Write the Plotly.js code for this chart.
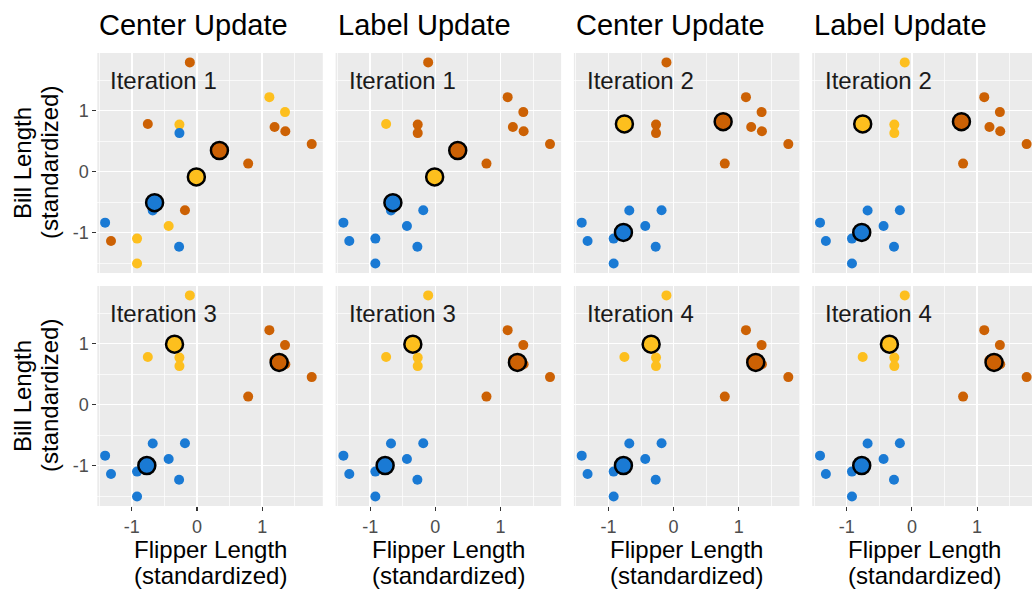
<!DOCTYPE html>
<html>
<head>
<meta charset="utf-8">
<script src="https://cdn.plot.ly/plotly-3.0.1.min.js"></script>
<style>
  html, body { margin: 0; padding: 0; overflow: hidden; background: #ffffff; }
  #chart { width: 1045px; height: 589px; }
</style>
</head>
<body>
<div id="chart"></div>
<script>
// Standardized penguin measurements (18 birds)
const flipper = [-0.11, 1.11, 1.35, 1.19, 1.355, 1.76, -0.755, -0.27, -0.27, 0.785,
                 -0.185, -0.68, -1.41, -0.435, -1.32, -0.92, -0.275, -0.92];
const bill    = [1.79, 1.22, 0.975, 0.73, 0.66, 0.45, 0.78, 0.77, 0.63, 0.13,
                 -0.636, -0.64, -0.838, -0.893, -1.14, -1.10, -1.233, -1.507];

// Cluster assignment of each bird (o = orange, y = yellow, b = blue)
const labelsStart = ["o","y","y","o","o","o","o","y","b","o","o","b","b","y","o","y","b","y"];
const labelsIter1 = ["o","o","o","o","o","o","y","o","o","o","b","b","b","b","b","b","b","b"];
const labelsIter2 = ["y","o","o","o","o","o","y","y","y","o","b","b","b","b","b","b","b","b"];

// Cluster centers, ordered orange, yellow, blue
const centerClusters = ["o", "y", "b"];
const centersIter1X = [0.344, -0.01, -0.651];
const centersIter1Y = [0.345, -0.088, -0.51];
const centersIter2X = [0.76, -0.755, -0.77];
const centersIter2Y = [0.817, 0.78, -0.998];
const centersIter3X = [1.26, -0.345, -0.77];
const centersIter3Y = [0.69, 0.99, -1.0];

// Axis ticks
const tickValues = [-1, 0, 1];
const tickLabels = ["-1", "0", "1"];

// Facets
const panelTitles = ["Center Update", "Label Update", "Center Update", "Label Update",
                     "Center Update", "Label Update", "Center Update", "Label Update"];
const panelIterations = [1, 1, 2, 2, 3, 3, 4, 4];
const panelLabels = [labelsStart, labelsIter1, labelsIter1, labelsIter2,
                     labelsIter2, labelsIter2, labelsIter2, labelsIter2];
const panelCentersX = [centersIter1X, centersIter1X, centersIter2X, centersIter2X,
                       centersIter3X, centersIter3X, centersIter3X, centersIter3X];
const panelCentersY = [centersIter1Y, centersIter1Y, centersIter2Y, centersIter2Y,
                       centersIter3Y, centersIter3Y, centersIter3Y, centersIter3Y];

const clusterColors = { o: "#CC6104", y: "#FDBF1E", b: "#1A7AD4" };

// Page geometry (pixels)
const W = 1045, H = 589;
const colLeft = [97.3, 335.6, 573.9, 812.2];
const panelW = 225.5;
const rowTop = [53, 286];
const panelH = 220;
const FONT = "Liberation Sans, Arial, Helvetica, sans-serif";

const traces = [];
const layout = {
  width: W, height: H,
  margin: { l: 0, r: 0, t: 0, b: 0 },
  paper_bgcolor: "#ffffff",
  plot_bgcolor: "#EBEBEB",
  showlegend: false,
  font: { family: FONT, color: "#000000" },
  annotations: []
};

for (let k = 0; k < 8; k++) {
  const r = Math.floor(k / 4), c = k % 4;
  const id = k === 0 ? "" : String(k + 1);
  const xa = "x" + id, ya = "y" + id;
  const labels = panelLabels[k];

  // data points, one trace per cluster
  ["o", "y", "b"].forEach(cl => {
    const xs = [], ys = [];
    labels.forEach((l, i) => { if (l === cl) { xs.push(flipper[i]); ys.push(bill[i]); } });
    traces.push({
      type: "scatter", mode: "markers", x: xs, y: ys, xaxis: xa, yaxis: ya,
      marker: { size: 10, color: clusterColors[cl], line: { width: 0 } },
      hoverinfo: "skip"
    });
  });

  // cluster centers
  traces.push({
    type: "scatter", mode: "markers",
    x: panelCentersX[k], y: panelCentersY[k], xaxis: xa, yaxis: ya,
    marker: { size: 17, color: centerClusters.map(cl => clusterColors[cl]),
              line: { width: 2.5, color: "#000000" } },
    hoverinfo: "skip"
  });

  const left = colLeft[c], top = rowTop[r];
  const isBottom = r === 1, isLeft = c === 0;

  layout["xaxis" + id] = {
    domain: [left / W, (left + panelW) / W],
    anchor: ya,
    range: [-1.53, 1.93],
    tickmode: "array", tickvals: tickValues, ticktext: tickLabels,
    showgrid: true, gridcolor: "#FFFFFF", gridwidth: 1.4,
    minor: { dtick: 0.5, tick0: 0, showgrid: true, gridcolor: "#FFFFFF", gridwidth: 0.7 },
    zeroline: false, showline: false,
    ticks: isBottom ? "outside" : "", ticklen: 4, tickwidth: 1.1, tickcolor: "#333333",
    showticklabels: isBottom,
    tickfont: { size: 18, color: "#4D4D4D", family: FONT },
    fixedrange: true
  };
  layout["yaxis" + id] = {
    domain: [1 - (top + panelH) / H, 1 - top / H],
    anchor: xa,
    range: [-1.664, 1.944],
    tickmode: "array", tickvals: tickValues, ticktext: tickLabels,
    showgrid: true, gridcolor: "#FFFFFF", gridwidth: 1.4,
    minor: { dtick: 0.5, tick0: 0, showgrid: true, gridcolor: "#FFFFFF", gridwidth: 0.7 },
    zeroline: false, showline: false,
    ticks: isLeft ? "outside" : "", ticklen: 4, tickwidth: 1.1, tickcolor: "#333333",
    showticklabels: isLeft,
    tickfont: { size: 18, color: "#4D4D4D", family: FONT },
    fixedrange: true
  };

  // iteration label inside the panel
  layout.annotations.push({
    xref: xa, yref: ya, x: -1.36, y: 1.5, xanchor: "left", yanchor: "middle",
    text: "Iteration " + panelIterations[k], showarrow: false,
    font: { size: 24, color: "#1A1A1A", family: FONT }
  });

  // column titles on the top row
  if (r === 0) {
    layout.annotations.push({
      xref: "paper", yref: "paper", x: left / W, y: 1 - 25 / H,
      xanchor: "left", yanchor: "middle",
      text: panelTitles[k], showarrow: false,
      font: { size: 29, color: "#000000", family: FONT }
    });
  }

  // axis titles
  if (isBottom) {
    const cx = (left + panelW / 2) / W;
    [["Flipper Length", 549], ["(standardized)", 575]].forEach(([t, py]) => {
      layout.annotations.push({
        xref: "paper", yref: "paper", x: cx, y: 1 - py / H,
        xanchor: "center", yanchor: "middle", text: t, showarrow: false,
        font: { size: 24, color: "#000000", family: FONT }
      });
    });
  }
  if (isLeft) {
    const cy = 1 - (top + panelH / 2) / H;
    [["Bill Length", 22], ["(standardized)", 49]].forEach(([t, px]) => {
      layout.annotations.push({
        xref: "paper", yref: "paper", x: px / W, y: cy,
        xanchor: "center", yanchor: "middle", textangle: -90,
        text: t, showarrow: false,
        font: { size: 24, color: "#000000", family: FONT }
      });
    });
  }
}

Plotly.newPlot("chart", traces, layout, { displayModeBar: false, staticPlot: true });
</script>
</body>
</html>
